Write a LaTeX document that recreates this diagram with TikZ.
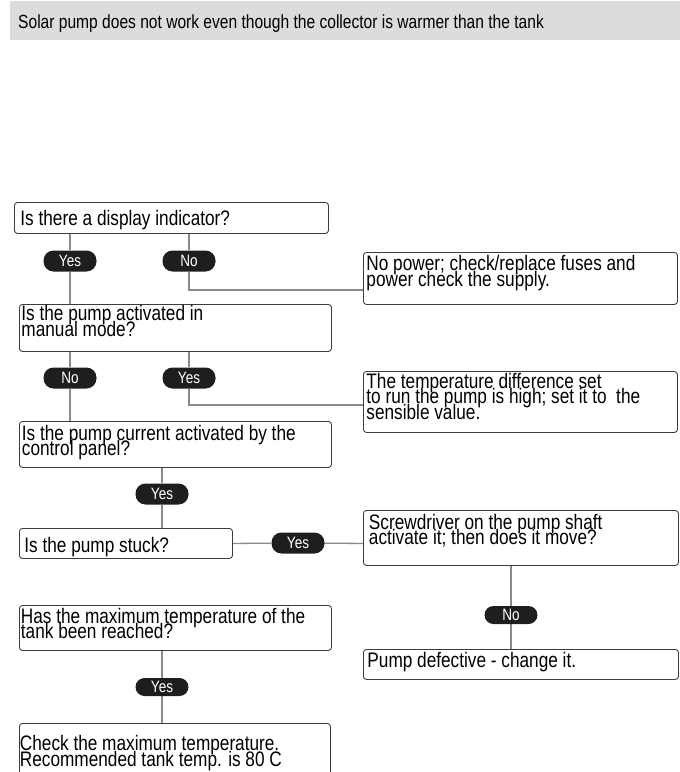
\documentclass[tikz,border=0pt]{standalone}
\usepackage{fontspec}
\setmainfont{Liberation Sans}[FakeStretch=0.82]
\usetikzlibrary{backgrounds}
\definecolor{hdr}{HTML}{DCDCDE}
\definecolor{lnc}{HTML}{8A8A8A}
\definecolor{bdc}{HTML}{3C3C3C}
\definecolor{plc}{HTML}{1E1E1E}
\newcommand\bxt[4]{\parbox[c][#2][t]{#1}{\lineskiplimit=-40pt\relax\vspace*{#3}\raggedright #4\par}}
\tikzset{
  box/.style={draw=bdc, line width=0.9pt, rounded corners=3pt, fill=white, inner ysep=0pt, anchor=north west,
    font=\fontsize{21}{15.8}\selectfont},
  pill/.style={fill=plc, text=white, rounded corners=10pt, minimum width=53pt, minimum height=21pt, inner sep=0pt,
    font=\fontsize{16.5}{16}\selectfont},
  conn/.style={draw=lnc, line width=1.3pt},
}
\begin{document}
\begin{tikzpicture}[x=1pt,y=-1pt]
\useasboundingbox (0,0) rectangle (680,772);
% header
\fill[hdr] (10,1) rectangle (680,40);
\node[anchor=base west, inner sep=0pt, font=\fontsize{19}{18}\selectfont] (title) at (18,28)
  {Solar pump does not work even though the collector is warmer than the tank};

% left column boxes
\node[box, inner xsep=6pt] (b1) at (14,202) {\bxt{302pt}{31pt}{7.5pt}{Is there a display indicator?}};
\node[box, inner xsep=2pt] (b2) at (19,304) {\bxt{308pt}{47pt}{1pt}{Is the pump activated in\\manual mode?}};
\node[box, inner xsep=2.5pt] (b3) at (19,421) {\bxt{307pt}{46pt}{3.5pt}{Is the pump current activated by the\\control panel?}};
\node[box, inner xsep=5pt] (b4) at (19,528) {\bxt{203pt}{30pt}{8.5pt}{Is the pump stuck?}};
\node[box, inner xsep=1.5pt] (b5) at (19,605) {\bxt{309pt}{45pt}{2.5pt}{Has the maximum temperature of the\\tank been reached?}};
\node[box, inner xsep=0.5pt] (b6) at (19,723) {\bxt{310pt}{60pt}{12pt}{Check the maximum temperature.\\Recommended tank temp. is 80 C}};

% right column boxes
\node[box, inner xsep=3pt] (r1) at (363,252) {\bxt{308pt}{52pt}{3pt}{No power; check/replace fuses and\\power check the supply.}};
\node[box, inner xsep=3pt] (r2) at (363,371) {\bxt{308pt}{61pt}{1.5pt}{The temperature difference set\\to run the pump is high; set it to\ \ the\\sensible value.}};
\node[box, inner xsep=5.5pt] (r3) at (363,510) {\bxt{304pt}{55pt}{3.5pt}{Screwdriver on the pump shaft\\activate it; then does it move?}};
\node[box, inner xsep=4pt] (r4) at (363,649) {\bxt{307pt}{30pt}{2.5pt}{Pump defective - change it.}};

% pills
\node[pill] (p1) at (70,261) {Yes};
\node[pill] (p2) at (189,261) {No};
\node[pill] (p3) at (70,378) {No};
\node[pill] (p4) at (189,378) {Yes};
\node[pill] (p5) at (162,494) {Yes};
\node[pill] (p6) at (298,543) {Yes};
\node[pill, minimum height=18pt, rounded corners=9pt] (p7) at (511,615) {No};
\node[pill, minimum height=18pt, rounded corners=9pt] (p8) at (162,687) {Yes};

\coordinate (c1) at (189,290);
\coordinate (c2) at (189,405);

\begin{scope}[on background layer]
\draw[conn] (b1.south -| p1) -- (p1) -- (b2.north -| p1);
\draw[conn] (b1.south -| p2) -- (p2) -- (c1) -- (c1 -| r1.west);
\draw[conn] (b2.south -| p3) -- (p3) -- (b3.north -| p3);
\draw[conn] (b2.south -| p4) -- (p4) -- (c2) -- (c2 -| r2.west);
\draw[conn] (b3.south -| p5) -- (p5) -- (b4.north -| p5);
\draw[conn] (b4.east) -- (p6) -- (b4.east -| r3.west);
\draw[conn] (r3.south -| p7) -- (p7) -- (r4.north -| p7);
\draw[conn] (b5.south -| p8) -- (p8) -- (b6.north -| p8);
\end{scope}
\end{tikzpicture}
\end{document}
